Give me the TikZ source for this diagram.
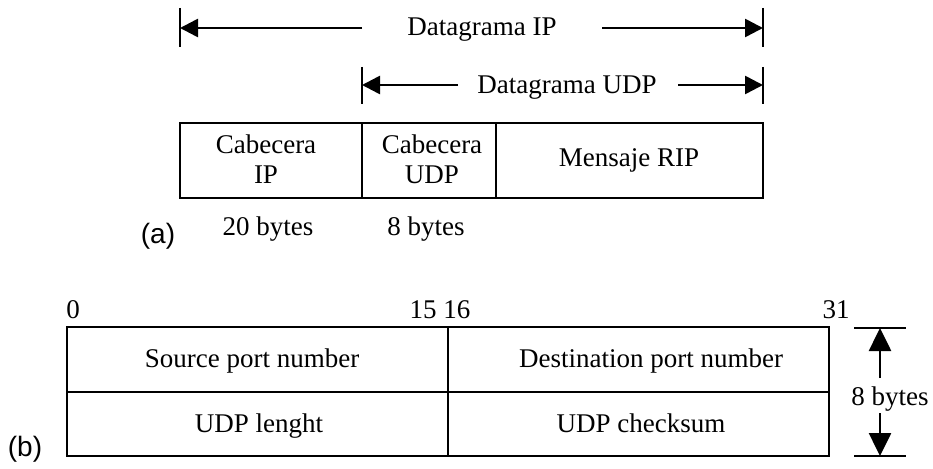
\documentclass[tikz,border=0pt]{standalone}
\usepackage{fontspec}
\setmainfont{Liberation Serif}
\newfontfamily\labelsans{Liberation Sans}
\usetikzlibrary{arrows.meta}
\tikzset{
  txt/.style={inner sep=0pt, anchor=base, font=\fontsize{27}{30}\selectfont},
  tag/.style={inner sep=0pt, anchor=base, font=\labelsans\fontsize{28}{30}\selectfont},
  field/.style={draw, line width=1.7pt},
  tick/.style={line width=1.3pt},
  dim/.style={line width=2.6pt, -{Triangle[length=18pt,width=18pt]}},
  vdim/.style={line width=2.6pt, -{Triangle[length=23pt,width=22pt]}},
}
\begin{document}
\begin{tikzpicture}[x=1pt,y=-1pt]
\useasboundingbox (0,0) rectangle (933,468);

% ---------- (a) encapsulation ----------
\draw[tick] (180,8) -- (180,47);
\draw[tick] (763,8) -- (763,47);
\coordinate (ipL) at (180,28);
\coordinate (ipR) at (763,28);
\coordinate (ipA) at (362,28);
\coordinate (ipB) at (602,28);
\node[txt] (ipT) at (482,36) {Datagrama IP};
\draw[dim] (ipA) -- (ipL);
\draw[dim] (ipB) -- (ipR);

\draw[tick] (362,67) -- (362,104);
\draw[tick] (763,67) -- (763,104);
\coordinate (udpL) at (362,85);
\coordinate (udpR) at (763,85);
\coordinate (udpA) at (458,85);
\coordinate (udpB) at (678,85);
\node[txt] (udpT) at (567,94) {Datagrama UDP};
\draw[dim] (udpA) -- (udpL);
\draw[dim] (udpB) -- (udpR);

\draw[field] (180,123) rectangle (763,198);
\draw[field] (362,123) -- (362,198);
\draw[field] (496,123) -- (496,198);
\node[txt, anchor=center, align=center] (cip) at (266,159) {Cabecera\\IP};
\node[txt, anchor=center, align=center] (cudp) at (432,159) {Cabecera\\UDP};
\node[txt, anchor=center] (rip) at (629,160) {Mensaje RIP};
\node[txt] (b20) at (268,235) {20 bytes};
\node[txt] (b8) at (426,235) {8 bytes};
\node[tag] (ta) at (158,243) {(a)};

% ---------- (b) UDP header ----------
\node[txt] (n0) at (73,318) {0};
\node[txt] (n15) at (440,318) {15 16};
\node[txt] (n31) at (836,318) {31};

\draw[field] (67,327) rectangle (829,456);
\draw[field] (67,392) -- (829,392);
\draw[field] (448,327) -- (448,456);
\node[txt] (src) at (252,367) {Source port number};
\node[txt] (dst) at (651,367) {Destination port number};
\node[txt] (len) at (259,432) {UDP lenght};
\node[txt] (chk) at (641,432) {UDP checksum};

\draw[tick] (854,328) -- (906,328);
\draw[tick] (854,456) -- (906,456);
\coordinate (szT) at (880,328);
\coordinate (szB) at (880,456);
\coordinate (szA) at (880,378);
\coordinate (szC) at (880,413);
\node[txt] (sz) at (890,405) {8 bytes};
\draw[vdim] (szA) -- (szT);
\draw[vdim] (szC) -- (szB);
\node[tag] (tb) at (25,456) {(b)};
\end{tikzpicture}
\end{document}
